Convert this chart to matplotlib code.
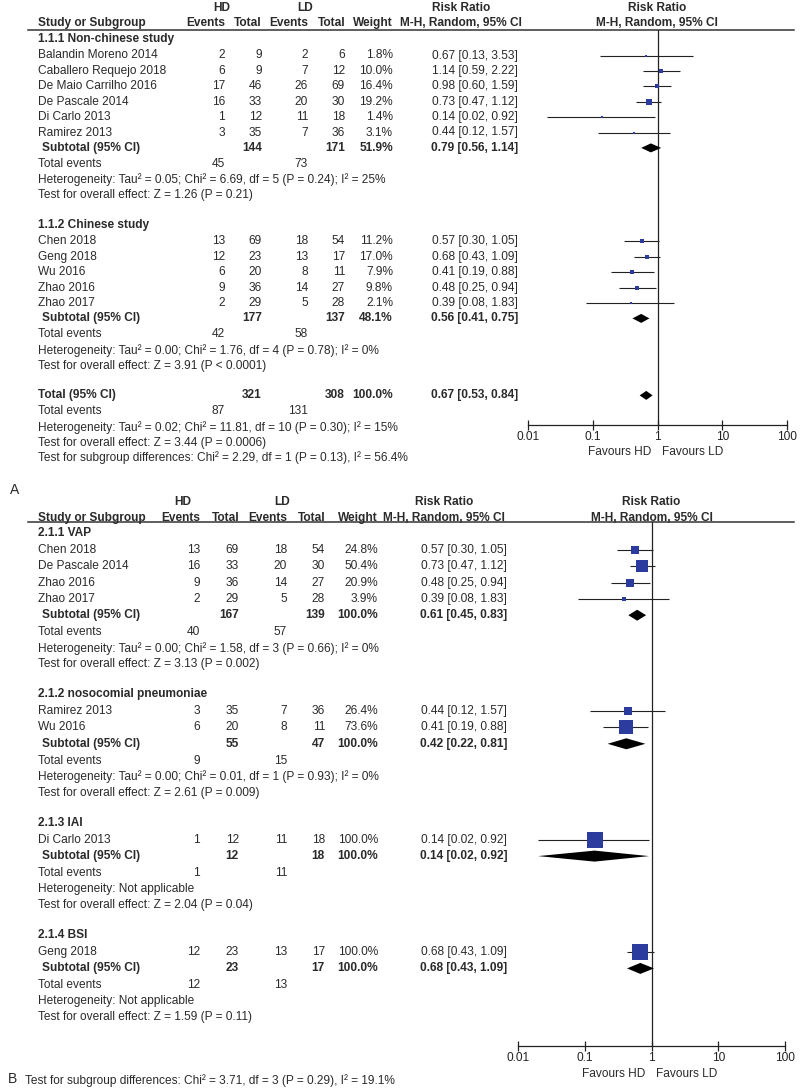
import matplotlib
matplotlib.use("Agg")
import matplotlib.pyplot as plt
from matplotlib.patches import Polygon
import numpy as np

plt.rcParams['font.family'] = ['Liberation Sans', 'DejaVu Sans']

# ---------------- DATA : panel A ----------------
a1_title = "1.1.1 Non-chinese study"
a1_names = ["Balandin Moreno 2014", "Caballero Requejo 2018", "De Maio Carrilho 2016",
            "De Pascale 2014", "Di Carlo 2013", "Ramirez 2013"]
a1_hd_ev = [2, 6, 17, 16, 1, 3]
a1_hd_tot = [9, 9, 46, 33, 12, 35]
a1_ld_ev = [2, 7, 26, 20, 11, 7]
a1_ld_tot = [6, 12, 69, 30, 18, 36]
a1_weight = [1.8, 10.0, 16.4, 19.2, 1.4, 3.1]
a1_rr = [0.67, 1.14, 0.98, 0.73, 0.14, 0.44]
a1_lo = [0.13, 0.59, 0.60, 0.47, 0.02, 0.12]
a1_hi = [3.53, 2.22, 1.59, 1.12, 0.92, 1.57]
a1_sub = [144, 171, 51.9, 0.79, 0.56, 1.14]   # hd total, ld total, weight, rr, lo, hi
a1_events = [45, 73]
a1_het = "Heterogeneity: Tau\u00b2 = 0.05; Chi\u00b2 = 6.69, df = 5 (P = 0.24); I\u00b2 = 25%"
a1_test = "Test for overall effect: Z = 1.26 (P = 0.21)"

a2_title = "1.1.2 Chinese study"
a2_names = ["Chen 2018", "Geng 2018", "Wu 2016", "Zhao 2016", "Zhao 2017"]
a2_hd_ev = [13, 12, 6, 9, 2]
a2_hd_tot = [69, 23, 20, 36, 29]
a2_ld_ev = [18, 13, 8, 14, 5]
a2_ld_tot = [54, 17, 11, 27, 28]
a2_weight = [11.2, 17.0, 7.9, 9.8, 2.1]
a2_rr = [0.57, 0.68, 0.41, 0.48, 0.39]
a2_lo = [0.30, 0.43, 0.19, 0.25, 0.08]
a2_hi = [1.05, 1.09, 0.88, 0.94, 1.83]
a2_sub = [177, 137, 48.1, 0.56, 0.41, 0.75]
a2_events = [42, 58]
a2_het = "Heterogeneity: Tau\u00b2 = 0.00; Chi\u00b2 = 1.76, df = 4 (P = 0.78); I\u00b2 = 0%"
a2_test = "Test for overall effect: Z = 3.91 (P < 0.0001)"

a_total = [321, 308, 100.0, 0.67, 0.53, 0.84]
a_total_events = [87, 131]
a_total_het = "Heterogeneity: Tau\u00b2 = 0.02; Chi\u00b2 = 11.81, df = 10 (P = 0.30); I\u00b2 = 15%"
a_total_test = "Test for overall effect: Z = 3.44 (P = 0.0006)"
a_subdiff = "Test for subgroup differences: Chi\u00b2 = 2.29, df = 1 (P = 0.13), I\u00b2 = 56.4%"

# ---------------- DATA : panel B ----------------
b1_title = "2.1.1 VAP"
b1_names = ["Chen 2018", "De Pascale 2014", "Zhao 2016", "Zhao 2017"]
b1_hd_ev = [13, 16, 9, 2]
b1_hd_tot = [69, 33, 36, 29]
b1_ld_ev = [18, 20, 14, 5]
b1_ld_tot = [54, 30, 27, 28]
b1_weight = [24.8, 50.4, 20.9, 3.9]
b1_rr = [0.57, 0.73, 0.48, 0.39]
b1_lo = [0.30, 0.47, 0.25, 0.08]
b1_hi = [1.05, 1.12, 0.94, 1.83]
b1_sub = [167, 139, 100.0, 0.61, 0.45, 0.83]
b1_events = [40, 57]
b1_het = "Heterogeneity: Tau\u00b2 = 0.00; Chi\u00b2 = 1.58, df = 3 (P = 0.66); I\u00b2 = 0%"
b1_test = "Test for overall effect: Z = 3.13 (P = 0.002)"

b2_title = "2.1.2 nosocomial pneumoniae"
b2_names = ["Ramirez 2013", "Wu 2016"]
b2_hd_ev = [3, 6]
b2_hd_tot = [35, 20]
b2_ld_ev = [7, 8]
b2_ld_tot = [36, 11]
b2_weight = [26.4, 73.6]
b2_rr = [0.44, 0.41]
b2_lo = [0.12, 0.19]
b2_hi = [1.57, 0.88]
b2_sub = [55, 47, 100.0, 0.42, 0.22, 0.81]
b2_events = [9, 15]
b2_het = "Heterogeneity: Tau\u00b2 = 0.00; Chi\u00b2 = 0.01, df = 1 (P = 0.93); I\u00b2 = 0%"
b2_test = "Test for overall effect: Z = 2.61 (P = 0.009)"

b3_title = "2.1.3 IAI"
b3_names = ["Di Carlo 2013"]
b3_hd_ev = [1]
b3_hd_tot = [12]
b3_ld_ev = [11]
b3_ld_tot = [18]
b3_weight = [100.0]
b3_rr = [0.14]
b3_lo = [0.02]
b3_hi = [0.92]
b3_sub = [12, 18, 100.0, 0.14, 0.02, 0.92]
b3_events = [1, 11]
b3_het = "Heterogeneity: Not applicable"
b3_test = "Test for overall effect: Z = 2.04 (P = 0.04)"

b4_title = "2.1.4 BSI"
b4_names = ["Geng 2018"]
b4_hd_ev = [12]
b4_hd_tot = [23]
b4_ld_ev = [13]
b4_ld_tot = [17]
b4_weight = [100.0]
b4_rr = [0.68]
b4_lo = [0.43]
b4_hi = [1.09]
b4_sub = [23, 17, 100.0, 0.68, 0.43, 1.09]
b4_events = [12, 13]
b4_het = "Heterogeneity: Not applicable"
b4_test = "Test for overall effect: Z = 1.59 (P = 0.11)"
b_subdiff = "Test for subgroup differences: Chi\u00b2 = 3.71, df = 3 (P = 0.29), I\u00b2 = 19.1%"

tick_vals = [0.01, 0.1, 1, 10, 100]
tick_labels = ["0.01", "0.1", "1", "10", "100"]

# ---------------- figure ----------------
W, H = 800, 1090
fig = plt.figure(figsize=(W / 100, H / 100), dpi=100)
FS = 8.6
TXT = "#2a2a2a"
BLUE = "#2b3c9e"


def fx(x):
    return x / W


def fy(y):
    return 1 - y / H


def txt(x, y, s, ha="left", bold=False, size=FS):
    fig.text(fx(x), fy(y), s, ha=ha, va="center", fontsize=size,
             fontweight="bold" if bold else "normal", color=TXT)


def fmt_ci(rr, lo, hi):
    return f"{rr:.2f} [{lo:.2f}, {hi:.2f}]"


def make_group(title, names, hev, htot, lev, ltot, w, rr, lo, hi, sub, ev, het, test):
    return dict(title=title, names=names, hev=hev, htot=htot, lev=lev, ltot=ltot,
                w=w, rr=rr, lo=lo, hi=hi, sub=sub, ev=ev, het=het, test=test)


def draw_panel(groups, total, cfg):
    c = cfg
    # headers
    txt(c["hd_c"], c["h1"], "HD", ha="center", bold=True)
    txt(c["ld_c"], c["h1"], "LD", ha="center", bold=True)
    txt(c["rr_c"], c["h1"], "Risk Ratio", ha="center", bold=True)
    txt(c["one_x"], c["h1"], "Risk Ratio", ha="center", bold=True)
    txt(38, c["h2"], "Study or Subgroup", bold=True)
    for x, s in zip(c["cols"], ["Events", "Total", "Events", "Total", "Weight"]):
        txt(x, c["h2"], s, ha="right", bold=True)
    txt(c["rr_c"], c["h2"], "M-H, Random, 95% CI", ha="center", bold=True)
    txt(c["one_x"], c["h2"], "M-H, Random, 95% CI", ha="center", bold=True)
    fig.add_artist(plt.Line2D([fx(28), fx(794)], [fy(c["line"]), fy(c["line"])],
                              color="#333333", lw=1.1))

    # forest axes
    ax = fig.add_axes([fx(c["x01"]), fy(c["axis"]), (c["x100"] - c["x01"]) / W,
                       (c["axis"] - c["line"]) / H])
    ax.set_xscale("log")
    ax.set_xlim(0.01, 100)
    ax.set_ylim(c["axis"], c["line"])
    ax.patch.set_alpha(0)
    for sp in ["top", "left", "right"]:
        ax.spines[sp].set_visible(False)
    ax.spines["bottom"].set_linewidth(0.9)
    ax.spines["bottom"].set_color("#222222")
    ax.set_yticks([])
    ax.set_xticks(tick_vals)
    ax.set_xticklabels(tick_labels)
    ax.minorticks_off()
    ax.tick_params(axis="x", direction="inout", length=7, width=0.9, pad=0.5,
                   labelsize=FS, colors="#222222")
    ax.axvline(1, color="#222222", lw=0.9)

    cols = c["cols"]
    y = c["start"]
    for gi, g in enumerate(groups):
        if gi > 0:
            y += c["gap"]
        txt(38, y, g["title"], bold=True)
        y += c["first"]
        for i, name in enumerate(g["names"]):
            if i > 0:
                y += c["step"]
            txt(38, y, name)
            txt(cols[0], y, str(g["hev"][i]), ha="right")
            txt(cols[1], y, str(g["htot"][i]), ha="right")
            txt(cols[2], y, str(g["lev"][i]), ha="right")
            txt(cols[3], y, str(g["ltot"][i]), ha="right")
            txt(cols[4], y, f"{g['w'][i]:.1f}%", ha="right")
            txt(c["ci_r"], y, fmt_ci(g["rr"][i], g["lo"][i], g["hi"][i]), ha="right")
            ax.plot([g["lo"][i], g["hi"][i]], [y, y], color="#222222", lw=0.8,
                    solid_capstyle="butt")
            side_px = max(c["k"] * np.sqrt(g["w"][i] / 100.0), 1.6)
            side_pt = side_px * 72 / 100
            ax.scatter([g["rr"][i]], [y], marker="s", s=side_pt ** 2,
                       color=BLUE, linewidths=0, zorder=3)
        y += c["step"]
        s = g["sub"]
        txt(42, y, "Subtotal (95% CI)", bold=True)
        txt(cols[1], y, str(s[0]), ha="right", bold=True)
        txt(cols[3], y, str(s[1]), ha="right", bold=True)
        txt(cols[4], y, f"{s[2]:.1f}%", ha="right", bold=True)
        txt(c["ci_r"], y, fmt_ci(s[3], s[4], s[5]), ha="right", bold=True)
        hh = c["dh"] / 2
        ax.add_patch(Polygon([(s[4], y), (s[3], y - hh), (s[5], y), (s[3], y + hh)],
                             closed=True, color="black", lw=0, zorder=3))
        y += c["te"]
        txt(38, y, "Total events")
        txt(cols[0], y, str(g["ev"][0]), ha="right")
        txt(cols[2], y, str(g["ev"][1]), ha="right")
        y += c["het"]
        txt(38, y, g["het"])
        y += c["test"]
        txt(38, y, g["test"])

    if total is not None:
        t = total
        y += c["gap"]
        txt(38, y, "Total (95% CI)", bold=True)
        txt(cols[1], y, str(t["vals"][0]), ha="right", bold=True)
        txt(cols[3], y, str(t["vals"][1]), ha="right", bold=True)
        txt(cols[4], y, f"{t['vals'][2]:.1f}%", ha="right", bold=True)
        txt(c["ci_r"], y, fmt_ci(t["vals"][3], t["vals"][4], t["vals"][5]), ha="right", bold=True)
        hh = c["dh"] / 2
        v = t["vals"]
        ax.add_patch(Polygon([(v[4], y), (v[3], y - hh), (v[5], y), (v[3], y + hh)],
                             closed=True, color="black", lw=0, zorder=3))
        y += c["te"]
        txt(38, y, "Total events")
        txt(cols[0], y, str(t["ev"][0]), ha="right")
        txt(cols[2], y, str(t["ev"][1]), ha="right")
        y += c["het"]
        txt(38, y, t["het"])
        y += c["test"]
        txt(38, y, t["test"])

    # favours labels
    txt(c["one_x"] - 6, c["fav"], "Favours HD", ha="right")
    txt(c["one_x"] + 5, c["fav"], "Favours LD", ha="left")
    return ax


groupsA = [
    make_group(a1_title, a1_names, a1_hd_ev, a1_hd_tot, a1_ld_ev, a1_ld_tot, a1_weight,
               a1_rr, a1_lo, a1_hi, a1_sub, a1_events, a1_het, a1_test),
    make_group(a2_title, a2_names, a2_hd_ev, a2_hd_tot, a2_ld_ev, a2_ld_tot, a2_weight,
               a2_rr, a2_lo, a2_hi, a2_sub, a2_events, a2_het, a2_test),
]
totalA = dict(vals=a_total, ev=a_total_events, het=a_total_het, test=a_total_test)

cfgA = dict(h1=8, h2=23, line=30, hd_c=222, ld_c=305, rr_c=461, one_x=657,
            cols=[225, 262, 308, 345, 393], ci_r=518, x01=528, x100=787, axis=425,
            start=39, first=16.5, step=15.4, te=16, het=16, test=15.5, gap=29.5,
            k=11.5, dh=9, fav=452)
draw_panel(groupsA, totalA, cfgA)
txt(38, 458, a_subdiff)
txt(10, 490, "A", size=10)

groupsB = [
    make_group(b1_title, b1_names, b1_hd_ev, b1_hd_tot, b1_ld_ev, b1_ld_tot, b1_weight,
               b1_rr, b1_lo, b1_hi, b1_sub, b1_events, b1_het, b1_test),
    make_group(b2_title, b2_names, b2_hd_ev, b2_hd_tot, b2_ld_ev, b2_ld_tot, b2_weight,
               b2_rr, b2_lo, b2_hi, b2_sub, b2_events, b2_het, b2_test),
    make_group(b3_title, b3_names, b3_hd_ev, b3_hd_tot, b3_ld_ev, b3_ld_tot, b3_weight,
               b3_rr, b3_lo, b3_hi, b3_sub, b3_events, b3_het, b3_test),
    make_group(b4_title, b4_names, b4_hd_ev, b4_hd_tot, b4_ld_ev, b4_ld_tot, b4_weight,
               b4_rr, b4_lo, b4_hi, b4_sub, b4_events, b4_het, b4_test),
]
cfgB = dict(h1=502, h2=518, line=522, hd_c=183, ld_c=282, rr_c=444, one_x=651.5,
            cols=[200, 239, 287, 325, 378], ci_r=507, x01=518, x100=785, axis=1046,
            start=533, first=17, step=16.3, te=17, het=16, test=16, gap=30,
            k=16.5, dh=11, fav=1074)
draw_panel(groupsB, None, cfgB)
txt(25, 1081, b_subdiff)
txt(8, 1079, "B", size=10)

fig.savefig("out.png", dpi=100)
